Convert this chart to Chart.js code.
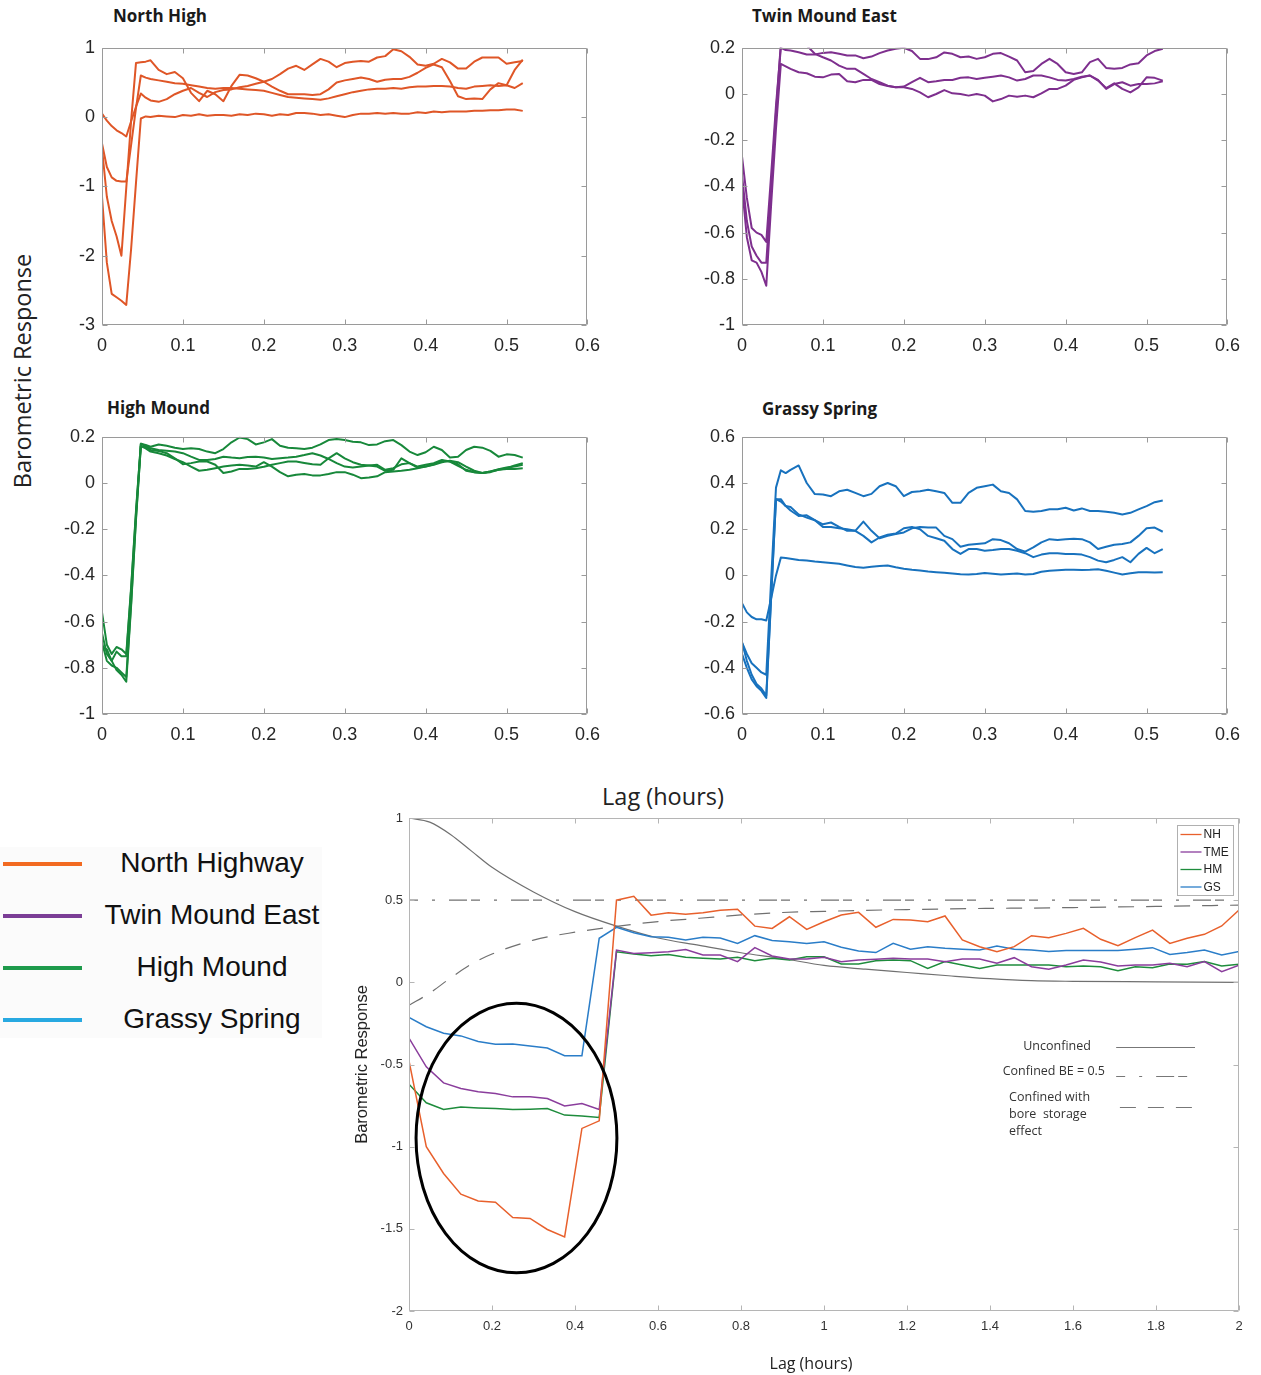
<!DOCTYPE html>
<html>
<head>
<meta charset="utf-8">
<script src="https://cdn.jsdelivr.net/npm/chart.js@4.4.1/dist/chart.umd.min.js"></script>
<style>
  body { margin: 0; background: #fff; }
  #page { position: relative; width: 1261px; height: 1375px; overflow: hidden; font-family: "Open Sans", sans-serif; color: #1a1a1a; }
  canvas { position: absolute; }
  .title { position: absolute; font-weight: 700; font-size: 17px; line-height: 20px; white-space: nowrap; color: #1a1a1a; }
  .big-label { position: absolute; font-size: 23.5px; line-height: 28px; white-space: nowrap; color: #222; transform: translate(-50%, -50%); }
  .axis-label { position: absolute; font-size: 16px; line-height: 20px; white-space: nowrap; color: #222; transform: translate(-50%, -50%); }
  #siteKey { position: absolute; left: 0; top: 847px; width: 322px; height: 191px; background: #fbfbfb; }
  .key-line { position: absolute; left: 3px; width: 79px; height: 4px; }
  .key-text { position: absolute; left: 212px; transform: translate(-50%, -50%); font-family: "Liberation Sans", Arial, sans-serif; font-size: 28px; white-space: nowrap; color: #111; }
</style>
</head>
<body>
<div id="page">
  <div class="title" style="left:113px; top:6px;">North High</div>
  <div class="title" style="left:752px; top:6px;">Twin Mound East</div>
  <div class="title" style="left:107px; top:398px;">High Mound</div>
  <div class="title" style="left:762px; top:399px;">Grassy Spring</div>
  <div class="big-label" style="left:22px; top:371px; transform: translate(-50%, -50%) rotate(-90deg);">Barometric Response</div>
  <div class="big-label" style="left:663px; top:796px;">Lag (hours)</div>

  <canvas id="nhChart" width="570" height="335" style="left:40px; top:30px;"></canvas>
  <canvas id="tmeChart" width="570" height="335" style="left:680px; top:30px;"></canvas>
  <canvas id="hmChart" width="570" height="335" style="left:40px; top:419px;"></canvas>
  <canvas id="gsChart" width="570" height="335" style="left:680px; top:419px;"></canvas>

  <div id="siteKey"></div>
  <canvas id="overviewChart" width="921" height="575" style="left:340px; top:800px;"></canvas>
  <div class="axis-label" style="left:811px; top:1363px;">Lag (hours)</div>
</div>
<script>
// lag (hours) of each sample in the per-site response runs
const smallLag = [
  0, 0.006, 0.012, 0.018, 0.024, 0.03, 0.036, 0.042, 0.048, 0.054,
  0.06, 0.07, 0.08, 0.09, 0.10, 0.11, 0.12, 0.13, 0.14, 0.15,
  0.16, 0.17, 0.18, 0.19, 0.20, 0.21, 0.22, 0.23, 0.24, 0.25,
  0.26, 0.27, 0.28, 0.29, 0.30, 0.31, 0.32, 0.33, 0.34, 0.35,
  0.36, 0.37, 0.38, 0.39, 0.40, 0.41, 0.42, 0.43, 0.44, 0.45,
  0.46, 0.47, 0.48, 0.49, 0.50, 0.51, 0.52
];

// North High
const northHigh1 = [
  0.05, -0.05, -0.13, -0.19, -0.23, -0.28, -0.06, 0.15, 0.34, 0.28,
  0.24, 0.22, 0.26, 0.33, 0.38, 0.42, 0.35, 0.29, 0.36, 0.39,
  0.40, 0.43, 0.45, 0.48, 0.51, 0.55, 0.62, 0.70, 0.74, 0.68,
  0.76, 0.84, 0.80, 0.72, 0.78, 0.80, 0.81, 0.80, 0.86, 0.88,
  0.98, 0.95, 0.87, 0.76, 0.74, 0.77, 0.84, 0.79, 0.70, 0.70,
  0.80, 0.86, 0.86, 0.86, 0.77, 0.79, 0.81
];
const northHigh2 = [
  -0.38, -0.72, -0.87, -0.92, -0.93, -0.93, -0.40, 0.13, 0.60, 0.57,
  0.55, 0.53, 0.51, 0.49, 0.48, 0.46, 0.44, 0.42, 0.41, 0.42,
  0.42, 0.41, 0.40, 0.39, 0.38, 0.35, 0.32, 0.29, 0.28, 0.27,
  0.26, 0.25, 0.27, 0.30, 0.33, 0.36, 0.38, 0.40, 0.41, 0.41,
  0.42, 0.41, 0.43, 0.44, 0.44, 0.45, 0.45, 0.44, 0.42, 0.41,
  0.44, 0.45, 0.46, 0.45, 0.46, 0.42, 0.49
];
const northHigh3 = [
  -0.45, -1.15, -1.50, -1.72, -2.00, -1.02, -0.05, 0.78, 0.79, 0.80,
  0.82, 0.68, 0.62, 0.65, 0.56, 0.35, 0.23, 0.38, 0.33, 0.23,
  0.45, 0.61, 0.60, 0.56, 0.51, 0.44, 0.38, 0.33, 0.33, 0.33,
  0.32, 0.33, 0.40, 0.50, 0.53, 0.55, 0.57, 0.55, 0.51, 0.54,
  0.55, 0.55, 0.58, 0.64, 0.71, 0.76, 0.72, 0.52, 0.30, 0.26,
  0.27, 0.26, 0.40, 0.49, 0.46, 0.68, 0.83
];
const northHigh4 = [
  -1.15, -2.10, -2.55, -2.60, -2.65, -2.71, -1.90, -0.95, -0.02, 0.01,
  0.00, 0.02, 0.01, 0.00, 0.03, 0.02, 0.04, 0.02, 0.03, 0.03,
  0.02, 0.04, 0.03, 0.05, 0.04, 0.02, 0.04, 0.03, 0.06, 0.06,
  0.05, 0.03, 0.04, 0.02, 0.00, 0.03, 0.05, 0.05, 0.06, 0.05,
  0.06, 0.05, 0.05, 0.07, 0.06, 0.08, 0.07, 0.08, 0.08, 0.08,
  0.09, 0.09, 0.10, 0.10, 0.11, 0.11, 0.09
];

// Twin Mound East
const twinMound1 = [
  -0.27, -0.45, -0.58, -0.60, -0.61, -0.64, -0.35, -0.05, 0.20, 0.19,
  0.188, 0.181, 0.171, 0.171, 0.178, 0.181, 0.174, 0.167, 0.167, 0.155,
  0.162, 0.177, 0.188, 0.196, 0.200, 0.186, 0.152, 0.151, 0.159, 0.180,
  0.174, 0.159, 0.162, 0.152, 0.159, 0.174, 0.177, 0.162, 0.145, 0.094,
  0.100, 0.130, 0.152, 0.130, 0.094, 0.087, 0.094, 0.138, 0.152, 0.113,
  0.109, 0.113, 0.128, 0.133, 0.167, 0.186, 0.196
];
const twinMound2 = [
  -0.35, -0.55, -0.66, -0.70, -0.73, -0.73, -0.41, -0.08, 0.22, 0.22,
  0.214, 0.217, 0.210, 0.174, 0.159, 0.145, 0.123, 0.109, 0.109, 0.087,
  0.065, 0.051, 0.036, 0.029, 0.032, 0.051, 0.070, 0.051, 0.055, 0.061,
  0.061, 0.070, 0.072, 0.065, 0.070, 0.075, 0.080, 0.072, 0.058, 0.065,
  0.080, 0.080, 0.072, 0.061, 0.058, 0.065, 0.075, 0.080, 0.058, 0.026,
  0.046, 0.022, 0.007, 0.029, 0.072, 0.070, 0.058
];
const twinMound3 = [
  -0.40, -0.62, -0.72, -0.73, -0.77, -0.83, -0.48, -0.15, 0.13, 0.12,
  0.109, 0.094, 0.090, 0.075, 0.072, 0.084, 0.087, 0.055, 0.051, 0.061,
  0.061, 0.043, 0.035, 0.029, 0.029, 0.022, 0.007, -0.014, 0.000, 0.017,
  0.003, 0.000, -0.007, 0.000, -0.007, -0.032, -0.022, -0.007, -0.012, -0.007,
  -0.014, 0.003, 0.022, 0.022, 0.036, 0.061, 0.072, 0.080, 0.061, 0.022,
  0.043, 0.051, 0.036, 0.043, 0.043, 0.046, 0.055
];

// High Mound
const highMound1 = [
  -0.56, -0.70, -0.74, -0.71, -0.72, -0.74, -0.45, -0.12, 0.17, 0.165,
  0.157, 0.167, 0.161, 0.153, 0.147, 0.150, 0.147, 0.136, 0.129, 0.147,
  0.176, 0.197, 0.190, 0.167, 0.176, 0.190, 0.161, 0.153, 0.150, 0.147,
  0.153, 0.167, 0.186, 0.190, 0.186, 0.179, 0.176, 0.164, 0.167, 0.181,
  0.186, 0.164, 0.136, 0.121, 0.133, 0.157, 0.143, 0.110, 0.114, 0.143,
  0.157, 0.153, 0.139, 0.114, 0.124, 0.121, 0.110
];
const highMound2 = [
  -0.65, -0.74, -0.77, -0.73, -0.75, -0.75, -0.46, -0.13, 0.17, 0.16,
  0.150, 0.143, 0.140, 0.136, 0.129, 0.114, 0.100, 0.100, 0.104, 0.114,
  0.110, 0.107, 0.113, 0.114, 0.110, 0.104, 0.107, 0.110, 0.114, 0.121,
  0.129, 0.119, 0.104, 0.086, 0.071, 0.067, 0.071, 0.076, 0.079, 0.057,
  0.064, 0.081, 0.086, 0.067, 0.071, 0.081, 0.096, 0.093, 0.081, 0.053,
  0.047, 0.043, 0.050, 0.057, 0.064, 0.076, 0.086
];
const highMound3 = [
  -0.69, -0.77, -0.79, -0.80, -0.82, -0.84, -0.52, -0.15, 0.16, 0.155,
  0.143, 0.139, 0.129, 0.107, 0.081, 0.086, 0.093, 0.093, 0.079, 0.043,
  0.050, 0.061, 0.061, 0.064, 0.070, 0.079, 0.086, 0.093, 0.093, 0.087,
  0.081, 0.079, 0.107, 0.129, 0.107, 0.090, 0.079, 0.076, 0.071, 0.053,
  0.057, 0.107, 0.086, 0.071, 0.079, 0.086, 0.100, 0.093, 0.074, 0.057,
  0.047, 0.043, 0.050, 0.060, 0.067, 0.071, 0.079
];
const highMound4 = [
  -0.71, -0.72, -0.77, -0.81, -0.83, -0.86, -0.53, -0.16, 0.16, 0.15,
  0.136, 0.129, 0.119, 0.104, 0.090, 0.071, 0.053, 0.057, 0.064, 0.071,
  0.076, 0.079, 0.076, 0.071, 0.090, 0.071, 0.047, 0.029, 0.036, 0.039,
  0.033, 0.033, 0.039, 0.047, 0.047, 0.036, 0.021, 0.024, 0.029, 0.047,
  0.050, 0.053, 0.057, 0.064, 0.071, 0.079, 0.090, 0.096, 0.090, 0.071,
  0.053, 0.043, 0.047, 0.057, 0.061, 0.061, 0.064
];

// Grassy Spring
const grassy1 = [
  -0.29, -0.34, -0.38, -0.40, -0.42, -0.43, -0.02, 0.38, 0.455, 0.443,
  0.457, 0.476, 0.400, 0.352, 0.350, 0.343, 0.364, 0.371, 0.357, 0.343,
  0.353, 0.386, 0.400, 0.386, 0.343, 0.361, 0.364, 0.371, 0.364, 0.357,
  0.314, 0.314, 0.357, 0.379, 0.386, 0.393, 0.364, 0.357, 0.329, 0.279,
  0.276, 0.279, 0.286, 0.286, 0.293, 0.281, 0.290, 0.279, 0.279, 0.276,
  0.271, 0.264, 0.271, 0.286, 0.300, 0.317, 0.324
];
const grassy2 = [
  -0.29, -0.37, -0.43, -0.47, -0.49, -0.52, -0.09, 0.33, 0.32, 0.30,
  0.296, 0.264, 0.250, 0.239, 0.221, 0.229, 0.210, 0.193, 0.193, 0.233,
  0.193, 0.161, 0.171, 0.179, 0.186, 0.204, 0.210, 0.207, 0.207, 0.171,
  0.157, 0.124, 0.133, 0.136, 0.139, 0.157, 0.153, 0.139, 0.114, 0.103,
  0.121, 0.143, 0.157, 0.153, 0.156, 0.159, 0.157, 0.143, 0.114, 0.124,
  0.133, 0.136, 0.143, 0.171, 0.204, 0.207, 0.189
];
const grassy3 = [
  -0.34, -0.40, -0.45, -0.48, -0.50, -0.53, -0.10, 0.33, 0.33, 0.30,
  0.281, 0.257, 0.260, 0.239, 0.210, 0.210, 0.204, 0.200, 0.193, 0.171,
  0.143, 0.164, 0.176, 0.181, 0.204, 0.210, 0.200, 0.171, 0.161, 0.150,
  0.114, 0.093, 0.114, 0.114, 0.107, 0.110, 0.114, 0.114, 0.107, 0.096,
  0.079, 0.090, 0.096, 0.096, 0.093, 0.093, 0.090, 0.079, 0.064, 0.057,
  0.067, 0.079, 0.057, 0.093, 0.119, 0.096, 0.114
];
const grassy4 = [
  -0.12, -0.16, -0.18, -0.19, -0.19, -0.195, -0.10, 0.00, 0.077, 0.075,
  0.072, 0.067, 0.064, 0.060, 0.057, 0.054, 0.050, 0.043, 0.036, 0.033,
  0.037, 0.041, 0.043, 0.035, 0.029, 0.024, 0.021, 0.017, 0.014, 0.011,
  0.008, 0.005, 0.004, 0.006, 0.010, 0.007, 0.004, 0.006, 0.008, 0.004,
  0.006, 0.016, 0.020, 0.022, 0.024, 0.024, 0.023, 0.024, 0.027, 0.020,
  0.012, 0.004, 0.009, 0.014, 0.014, 0.013, 0.014
];

// site averages, 2.5 minute samples out to 2 hours
const siteLag = Array.from({ length: 49 }, (_, i) => i / 24);
const siteNH = [
  -0.478, -1.0, -1.163, -1.289, -1.33, -1.338, -1.431, -1.437, -1.504, -1.549, -0.889, -0.843,
  0.5, 0.524, 0.409, 0.423, 0.415, 0.423, 0.439, 0.445, 0.342, 0.328, 0.399, 0.322,
  0.369, 0.41, 0.426, 0.335, 0.383, 0.379, 0.369, 0.404, 0.258, 0.217, 0.187, 0.217,
  0.284, 0.272, 0.298, 0.329, 0.262, 0.223, 0.272, 0.318, 0.237, 0.268, 0.292, 0.343, 0.44
];
const siteTME = [
  -0.339, -0.514, -0.612, -0.646, -0.666, -0.676, -0.697, -0.697, -0.707, -0.752, -0.737, -0.774,
  0.196, 0.176, 0.18, 0.186, 0.2, 0.166, 0.166, 0.126, 0.211, 0.16, 0.142, 0.142,
  0.152, 0.126, 0.136, 0.14, 0.146, 0.142, 0.142, 0.126, 0.142, 0.142, 0.116, 0.15,
  0.095, 0.079, 0.105, 0.136, 0.124, 0.099, 0.105, 0.105, 0.116, 0.095, 0.126, 0.065, 0.105
];
const siteHM = [
  -0.62, -0.733, -0.774, -0.758, -0.764, -0.768, -0.774, -0.772, -0.768, -0.808, -0.814, -0.822,
  0.186, 0.172, 0.162, 0.17, 0.152, 0.146, 0.142, 0.152, 0.132, 0.146, 0.136, 0.156,
  0.156, 0.112, 0.112, 0.132, 0.136, 0.132, 0.085, 0.126, 0.105, 0.085, 0.105, 0.105,
  0.105, 0.105, 0.095, 0.099, 0.095, 0.071, 0.095, 0.089, 0.112, 0.11, 0.126, 0.099, 0.11
];
const siteGS = [
  -0.213, -0.27, -0.31, -0.326, -0.36, -0.377, -0.375, -0.387, -0.4, -0.446, -0.446,
  0.268, 0.335, 0.302, 0.278, 0.274, 0.258, 0.274, 0.27, 0.237, 0.284, 0.254, 0.247, 0.237,
  0.247, 0.213, 0.191, 0.181, 0.237, 0.201, 0.217, 0.207, 0.201, 0.197, 0.221, 0.201,
  0.197, 0.187, 0.193, 0.193, 0.193, 0.193, 0.201, 0.211, 0.17, 0.181, 0.197, 0.166, 0.187
];

// theoretical responses
const modelLag = [0, 0.05, 0.1, 0.15, 0.2, 0.3, 0.4, 0.5, 0.6, 0.7, 0.8, 0.9, 1.0, 1.1, 1.2, 1.3, 1.4, 1.5, 1.6, 1.8, 2.0];
const unconfinedModel = [1.0, 0.975, 0.90, 0.80, 0.70, 0.55, 0.43, 0.342, 0.27, 0.225, 0.18, 0.145, 0.103, 0.08, 0.06, 0.04, 0.022, 0.01, 0.006, 0.003, 0.0];
const boreStorageModel = [-0.14, -0.065, 0.026, 0.11, 0.172, 0.257, 0.305, 0.34, 0.37, 0.39, 0.41, 0.425, 0.432, 0.438, 0.443, 0.447, 0.45, 0.452, 0.455, 0.462, 0.47];
const confinedLag = [0, 2];
const confinedBE = [0.5, 0.5];

const siteNames = ['North Highway', 'Twin Mound East', 'High Mound', 'Grassy Spring'];
const siteCodes = ['NH', 'TME', 'HM', 'GS'];
const siteColors = ['#E8602C', '#8A3D9C', '#1E8C3C', '#2A7DC8'];
const keyColors = ['#F26A21', '#7B3E96', '#1E9A4B', '#28A9E1'];

const pts = (xs, ys) => xs.map((x, i) => ({ x, y: ys[i] }));
const fmtTick = v => {
  const r = Math.round(v * 100) / 100;
  return r === 0 ? '0' : String(r);
};

// box round the plot area with inward tick marks on all four sides
const framePlugin = {
  id: 'frame',
  afterDatasetsDraw(chart, args, o) {
    const { ctx, chartArea: a, scales: { x, y } } = chart;
    const L = Math.round(a.left) + 0.5, R = Math.round(a.right) - 0.5;
    const T = Math.round(a.top) + 0.5, B = Math.round(a.bottom) - 0.5;
    ctx.save();
    ctx.strokeStyle = o.color;
    ctx.lineWidth = 1;
    ctx.beginPath();
    ctx.rect(L, T, R - L, B - T);
    x.ticks.forEach(t => {
      const px = Math.round(x.getPixelForValue(t.value)) + 0.5;
      ctx.moveTo(px, B); ctx.lineTo(px, B - o.len);
      ctx.moveTo(px, T); ctx.lineTo(px, T + o.len);
    });
    y.ticks.forEach(t => {
      const py = Math.round(y.getPixelForValue(t.value)) + 0.5;
      ctx.moveTo(L, py); ctx.lineTo(L + o.len, py);
      ctx.moveTo(R, py); ctx.lineTo(R - o.len, py);
    });
    ctx.stroke();
    ctx.restore();
  }
};

function smallChart(id, runs, color, yMin, yMax, yStep) {
  const tickFont = { family: '"Liberation Sans", Arial, sans-serif', size: 18 };
  return new Chart(document.getElementById(id), {
    type: 'line',
    data: {
      datasets: runs.map(r => ({
        data: pts(smallLag, r),
        borderColor: color,
        borderWidth: 2,
        borderJoinStyle: 'round',
        pointRadius: 0,
        tension: 0
      }))
    },
    options: {
      responsive: false,
      animation: false,
      events: [],
      layout: { padding: { top: 16, right: 22, left: 0, bottom: 0 } },
      plugins: {
        legend: { display: false },
        tooltip: { enabled: false },
        frame: { color: '#9a9a9a', len: 5 }
      },
      scales: {
        x: {
          type: 'linear', min: 0, max: 0.6,
          grid: { display: false, drawTicks: false },
          border: { display: false },
          ticks: { stepSize: 0.1, padding: 10, color: '#262626', font: tickFont, callback: fmtTick, maxRotation: 0 },
          afterFit: s => { s.height = 40; }
        },
        y: {
          type: 'linear', min: yMin, max: yMax,
          grid: { display: false, drawTicks: false },
          border: { display: false },
          ticks: { stepSize: yStep, padding: 7, color: '#262626', font: tickFont, callback: fmtTick },
          afterFit: s => { s.width = 62; }
        }
      }
    },
    plugins: [framePlugin]
  });
}

smallChart('nhChart', [northHigh1, northHigh2, northHigh3, northHigh4], '#DF5627', -3, 1, 1);
smallChart('tmeChart', [twinMound1, twinMound2, twinMound3], '#7E2F8E', -1, 0.2, 0.2);
smallChart('hmChart', [highMound1, highMound2, highMound3, highMound4], '#17883A', -1, 0.2, 0.2);
smallChart('gsChart', [grassy1, grassy2, grassy3, grassy4], '#1872BE', -0.6, 0.6, 0.2);

// site key on the left
const keyBox = document.getElementById('siteKey');
siteNames.forEach((name, i) => {
  const line = document.createElement('div');
  line.className = 'key-line';
  line.style.top = (15 + 52 * i) + 'px';
  line.style.background = keyColors[i];
  keyBox.appendChild(line);
  const txt = document.createElement('div');
  txt.className = 'key-text';
  txt.style.top = (16 + 52 * i) + 'px';
  txt.textContent = name;
  keyBox.appendChild(txt);
});

// ellipse marking the early negative responses (data units)
const earlyRing = { cx: 0.259, cy: -0.948, rx: 0.242, ry: 0.82 };

const noteFont = '12.5px "Open Sans", sans-serif';
const modelNotes = [
  { text: ['Unconfined'], x: 1.643, y: -0.388, align: 'right', key: { x0: 1.704, x1: 1.894, y: -0.394, dash: [] } },
  { text: ['Confined BE = 0.5'], x: 1.677, y: -0.54, align: 'right', key: { x0: 1.704, x1: 1.877, y: -0.57, dash: [9, 14, 3, 14, 18, 4] } },
  { text: ['Confined with', 'bore  storage', 'effect'], x: 1.446, y: -0.699, align: 'left', lineStep: -0.103, key: { x0: 1.713, x1: 1.894, y: -0.759, dash: [16, 12] } }
];

const overviewDecor = {
  id: 'overviewDecor',
  afterDatasetsDraw(chart) {
    const { ctx, chartArea: a, scales: { x, y } } = chart;
    ctx.save();

    // ring
    const cx = x.getPixelForValue(earlyRing.cx), cy = y.getPixelForValue(earlyRing.cy);
    const rx = x.getPixelForValue(earlyRing.cx + earlyRing.rx) - cx;
    const ry = cy - y.getPixelForValue(earlyRing.cy + earlyRing.ry);
    ctx.beginPath();
    ctx.ellipse(cx, cy, rx, ry, 0, 0, Math.PI * 2);
    ctx.lineWidth = 3;
    ctx.strokeStyle = '#000';
    ctx.stroke();

    // model notes
    ctx.font = noteFont;
    ctx.fillStyle = '#333';
    ctx.textBaseline = 'middle';
    modelNotes.forEach(n => {
      ctx.textAlign = n.align;
      n.text.forEach((t, k) => {
        ctx.fillText(t, x.getPixelForValue(n.x), y.getPixelForValue(n.y + k * (n.lineStep || 0)));
      });
      ctx.beginPath();
      ctx.setLineDash(n.key.dash);
      ctx.lineWidth = 1.2;
      ctx.strokeStyle = '#777';
      const ky = Math.round(y.getPixelForValue(n.key.y)) + 0.5;
      ctx.moveTo(x.getPixelForValue(n.key.x0), ky);
      ctx.lineTo(x.getPixelForValue(n.key.x1), ky);
      ctx.stroke();
      ctx.setLineDash([]);
    });

    // site legend, top right inside the axes
    const bw = 56, bh = 70;
    const bx = Math.round(a.right) - 6 - bw + 0.5, by = Math.round(a.top) + 7 + 0.5;
    ctx.fillStyle = '#fff';
    ctx.fillRect(bx, by, bw, bh);
    ctx.strokeStyle = '#b0b0b0';
    ctx.lineWidth = 1;
    ctx.strokeRect(bx, by, bw, bh);
    ctx.font = '12px "Liberation Sans", Arial, sans-serif';
    ctx.textAlign = 'left';
    siteCodes.forEach((code, i) => {
      const ly = by + 9 + i * 17.5;
      ctx.beginPath();
      ctx.strokeStyle = siteColors[i];
      ctx.lineWidth = 1.3;
      ctx.moveTo(bx + 3, ly);
      ctx.lineTo(bx + 24, ly);
      ctx.stroke();
      ctx.fillStyle = '#222';
      ctx.fillText(code, bx + 26, ly + 0.5);
    });
    ctx.restore();
  }
};

const siteSets = [siteNH, siteTME, siteHM, siteGS].map((vals, i) => ({
  label: siteCodes[i],
  data: pts(siteLag, vals),
  borderColor: siteColors[i],
  borderWidth: 1.5,
  pointRadius: 0,
  tension: 0
}));

const modelSets = [
  { label: 'Unconfined', data: pts(modelLag, unconfinedModel), borderColor: '#707070', borderWidth: 1.2, pointRadius: 0, cubicInterpolationMode: 'monotone' },
  { label: 'Confined BE = 0.5', data: pts(confinedLag, confinedBE), borderColor: '#707070', borderWidth: 1.2, pointRadius: 0, borderDash: [9, 14, 3, 14, 18, 4] },
  { label: 'Confined with bore storage effect', data: pts(modelLag, boreStorageModel), borderColor: '#707070', borderWidth: 1.2, pointRadius: 0, borderDash: [16, 12], cubicInterpolationMode: 'monotone' }
];

const ovFont = { family: '"Liberation Sans", Arial, sans-serif', size: 13 };
new Chart(document.getElementById('overviewChart'), {
  type: 'line',
  data: { datasets: siteSets.concat(modelSets) },
  options: {
    responsive: false,
    animation: false,
    events: [],
    layout: { padding: { top: 18, right: 22, left: 0, bottom: 0 } },
    plugins: {
      legend: { display: false },
      tooltip: { enabled: false },
      frame: { color: '#b5b5b5', len: 5 }
    },
    scales: {
      x: {
        type: 'linear', min: 0, max: 2,
        grid: { display: false, drawTicks: false },
        border: { display: false },
        ticks: { stepSize: 0.2, padding: 8, color: '#333', font: ovFont, callback: fmtTick, maxRotation: 0 },
        afterFit: s => { s.height = 64; }
      },
      y: {
        type: 'linear', min: -2, max: 1,
        grid: { display: false, drawTicks: false },
        border: { display: false },
        ticks: { stepSize: 0.5, padding: 6, color: '#333', font: ovFont, callback: fmtTick },
        title: { display: true, text: 'Barometric Response', color: '#222', font: { family: '"Liberation Sans", Arial, sans-serif', size: 16.5 }, padding: { top: 13, bottom: 0 } },
        afterFit: s => { s.width = 69; }
      }
    }
  },
  plugins: [framePlugin, overviewDecor]
});
</script>
</body>
</html>
